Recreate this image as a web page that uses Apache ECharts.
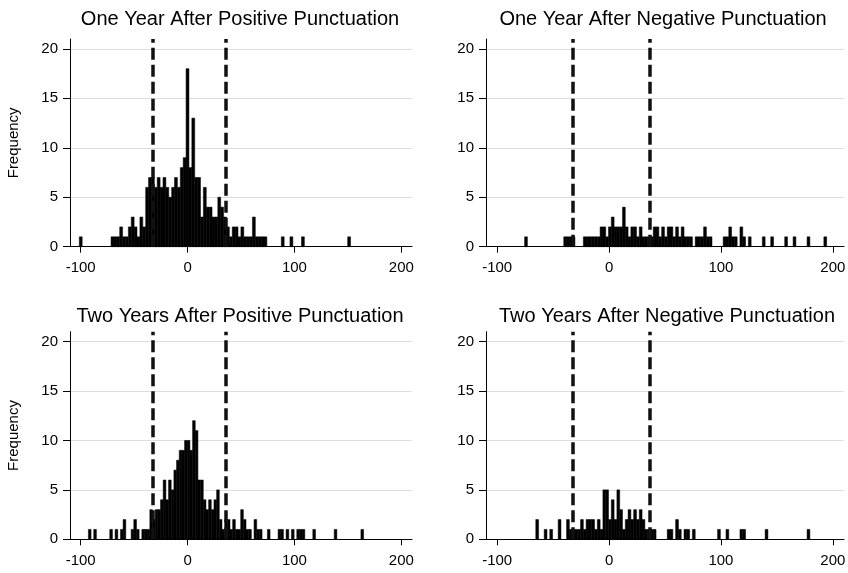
<!DOCTYPE html>
<html>
<head>
<meta charset="utf-8">
<title>Punctuation histograms</title>
<script src="https://cdn.jsdelivr.net/npm/echarts@6/dist/echarts.min.js"></script>
<style>
    html, body { margin: 0; padding: 0; background: #fff; }
    #chart { width: 848px; height: 573px; }
</style>
</head>
<body>
<div id="chart"></div>
<script>
    // panel titles
    const titles = [
        'One Year After Positive Punctuation',
        'One Year After Negative Punctuation',
        'Two Years After Positive Punctuation',
        'Two Years After Negative Punctuation'
    ];

    // axis ticks
    const xTicks = [-100, 0, 100, 200];
    const yTicks = [0, 5, 10, 15, 20];

    // dashed reference lines
    const cutoffs = [-32.5, 36];

    // histogram bins: left edge of first bin, bin width, frequency per bin
    const p1Start = -101.3, p1Width = 2.7;
    const p1Counts = [1, 0,0,0,0,0,0,0,0,0,0,
        1,1,1,2,1,1,2,3,2,1,
        3,2,6,7,7,6,7,6,7,6,
        5,6,7,6,8,9,18,8,13,7,
        7,3,6,4,4,3,3,5,4,3,
        2,1,2,2,1,2,1,1,1,3,
        1,1,1,1, 0,0,0,0,0, 1,0,0,1,0,0,0,1,
        0,0,0,0,0,0,0,0,0,0,0,0,0,0,0, 1];

    const p2Start = -75.5, p2Width = 2.5;
    const p2Counts = [1, 0,0,0,0,0,0,0,0,0,0,0,0,0,
        1,1,1,1, 0,0,0,
        1,1,1,1,1,1,2,2,1,2,
        3,2,2,2,4,2,1,2,2,1,
        2,1,1,1,1,2,2,1,2,1,
        2,2,1,2,1,2,1,1,1,0,
        1,1,1,2,1,1, 0,0,0,0,
        1,1,2,1,1,0,2,1,0,1,
        0,0,0,0,1,0,0,1,0,0,0,0,1,0,0,1,
        0,0,0,0,1,0,0,0,0,0,1];

    const p3Start = -92.8, p3Width = 2.5;
    const p3Counts = [1,0,1,0,0,0,0,0,1,0,
        1,0,1,2,0,0,1,2,1,0,
        1,1,1,3,2,3,3,4,6,4,
        6,5,7,8,9,9,10,10,9,12,
        11,6,6,4,3,4,3,4,5,2,
        1,2,2,1,2,1,1,3,2,1,
        1,0,2,1,1,0,0,1,0,0,
        0,1,1,0,1,0,1,0,1,1,
        1,0,0,0,1,0,0,0,0,0,
        0,0,1,0,0,0,0,0,0,0,
        0,0,1];

    const p4Start = -65.5, p4Width = 2.5;
    const p4Counts = [2,0,0,1,0,1,0,0,2,0,
        0,2,1,1,1,1,2,1,2,2,
        2,1,2,1,5,5,2,4,2,5,
        3,1,2,3,2,3,2,3,2,1,
        1,1,1,0,0,0,0,1,1,0,
        2,1,0,1,1,0,1,0,0,0,
        0,0,0,0,0,1,0,0,1,0,
        0,0,0,1,1,0,0,0,0,0,
        0,0,1,0,0,0,0,0,0,0,
        0,0,0,0,0,0,0,1];

    const bins = [
        { start: p1Start, width: p1Width, counts: p1Counts },
        { start: p2Start, width: p2Width, counts: p2Counts },
        { start: p3Start, width: p3Width, counts: p3Counts },
        { start: p4Start, width: p4Width, counts: p4Counts }
    ];

    // layout
    const fontFamily = '"Liberation Sans", Arial, Helvetica, sans-serif';
    const grids = [
        { left: 70, top: 39, width: 342, height: 207.7 },
        { left: 486, top: 39, width: 358, height: 207.7 },
        { left: 70, top: 331.7, width: 342, height: 207.6 },
        { left: 486, top: 331.7, width: 358, height: 207.6 }
    ];
    const titlePos = [[240, 19.5], [663, 19.5], [240, 316.5], [667, 316.5]];

    function binData(b) {
        let data = [];
        b.counts.forEach(function (c, i) {
            if (c > 0) {
                data.push([b.start + i * b.width, b.start + (i + 1) * b.width, c]);
            }
        });
        return data;
    }

    function renderBar(params, api) {
        let p0 = api.coord([api.value(0), 0]);
        let p1 = api.coord([api.value(1), api.value(2)]);
        return {
            type: 'rect',
            shape: { x: p0[0], y: p1[1], width: p1[0] - p0[0], height: p0[1] - p1[1] },
            style: { fill: '#000', stroke: '#000', lineWidth: 0.5 }
        };
    }

    let options = {
        animation: false,
        backgroundColor: '#fff',
        textStyle: { fontFamily: fontFamily },
        grid: grids.map(function (g) {
            return Object.assign({ containLabel: false, outerBoundsMode: 'none' }, g);
        }),
        graphic: titles.map(function (t, k) {
            return {
                type: 'text',
                x: titlePos[k][0],
                y: titlePos[k][1],
                style: {
                    text: t,
                    fill: '#000',
                    font: '20px ' + fontFamily,
                    align: 'center',
                    verticalAlign: 'middle'
                }
            };
        }),
        xAxis: [],
        yAxis: [],
        series: []
    };

    bins.forEach(function (b, k) {
        options.xAxis.push({
            gridIndex: k,
            type: 'value',
            min: -110,
            max: 210,
            axisLine: { show: true, onZero: false, lineStyle: { color: '#000', width: 1 } },
            axisTick: { show: true, length: 6, customValues: xTicks, lineStyle: { color: '#000' } },
            axisLabel: { customValues: xTicks, fontSize: 15, color: '#000', margin: 14, fontFamily: fontFamily },
            splitLine: { show: false }
        });
        options.yAxis.push({
            gridIndex: k,
            type: 'value',
            min: 0,
            max: 21,
            interval: 5,
            name: (k % 2 === 0) ? 'Frequency' : '',
            nameLocation: 'middle',
            nameRotate: 90,
            nameGap: 49,
            nameTextStyle: { fontSize: 15, color: '#000', fontFamily: fontFamily },
            axisLine: { show: true, onZero: false, lineStyle: { color: '#000', width: 1 } },
            axisTick: { show: true, length: 7, customValues: yTicks, lineStyle: { color: '#000' } },
            axisLabel: { customValues: yTicks, fontSize: 15, color: '#000', margin: 12, fontFamily: fontFamily },
            splitLine: { show: true, showMinLine: false, lineStyle: { color: '#dddddd', width: 1 } }
        });
        options.series.push({
            type: 'custom',
            xAxisIndex: k,
            yAxisIndex: k,
            renderItem: renderBar,
            encode: { x: [0, 1], y: 2 },
            data: binData(b),
            silent: true
        });
        options.series.push({
            type: 'line',
            xAxisIndex: k,
            yAxisIndex: k,
            data: [],
            silent: true,
            markLine: {
                silent: true,
                symbol: 'none',
                label: { show: false },
                lineStyle: { color: '#111', width: 3.5, type: [12, 5] },
                data: cutoffs.map(function (v) { return { xAxis: v }; })
            }
        });
    });

    echarts.init(document.getElementById('chart')).setOption(options);
</script>
</body>
</html>
